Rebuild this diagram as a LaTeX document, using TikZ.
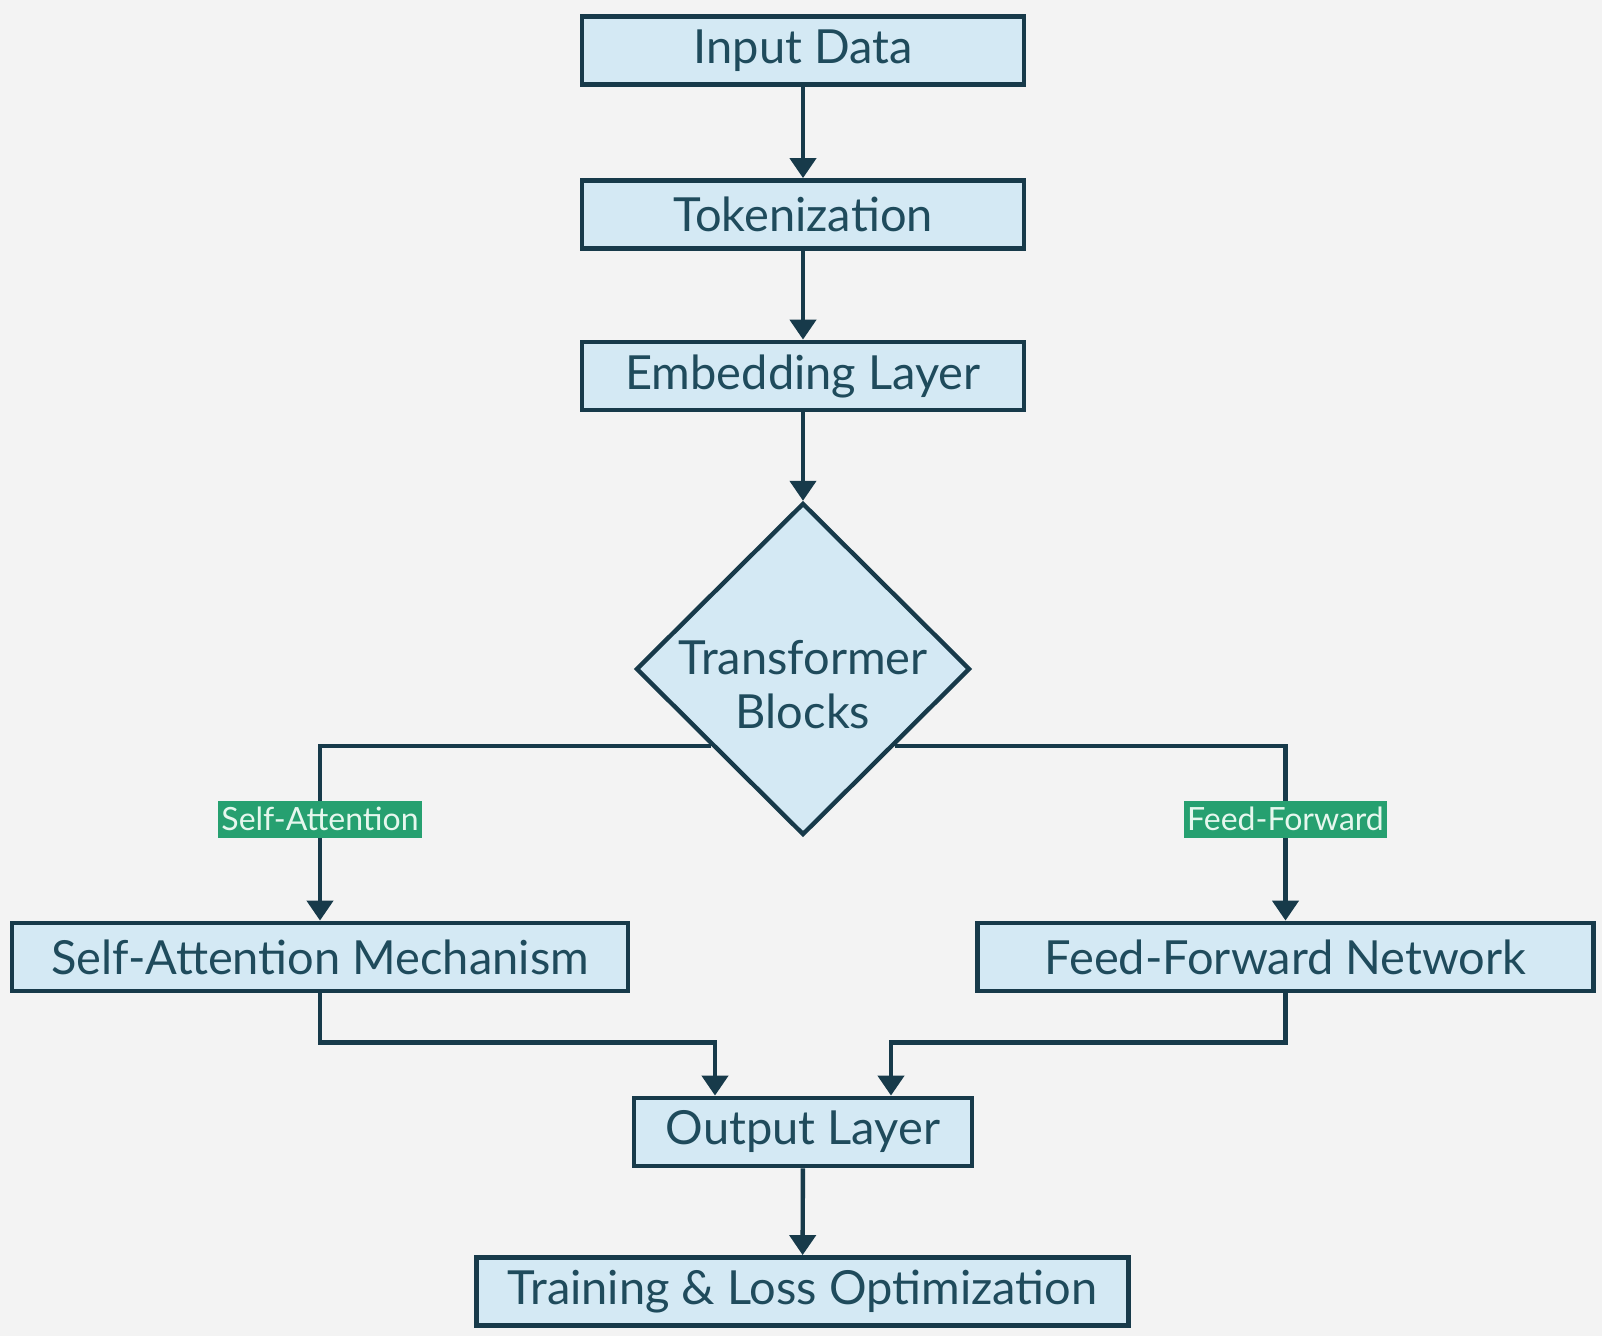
\documentclass[tikz,border=0pt]{standalone}
\usepackage{fontspec}
\setmainfont{Lato}
\usetikzlibrary{shapes.geometric,arrows.meta,calc}
\definecolor{bgc}{HTML}{F3F3F3}
\definecolor{edgec}{HTML}{173A4A}
\definecolor{boxc}{HTML}{D4E9F4}
\definecolor{txtc}{HTML}{1F4B5C}
\definecolor{labc}{HTML}{26A070}
\definecolor{labt}{HTML}{E6F7EE}
\begin{document}
\begin{tikzpicture}[x=0.5pt,y=-0.5pt,
  box/.style={draw=edgec,fill=boxc,line width=2.4pt,inner sep=0pt,text=txtc,
    font=\fontsize{23.5}{27}\selectfont,minimum height=34pt},
  dia/.style={diamond,draw=edgec,fill=boxc,line width=2.2pt,inner sep=0pt,aspect=1,
    minimum width=167pt,minimum height=166pt},
  conn/.style={draw=edgec,line width=2.2pt,-{Triangle[length=10pt,width=13pt]}},
  lab/.style={fill=labc,text=labt,font=\fontsize{16}{18}\selectfont,inner xsep=1.5pt,
    inner ysep=0pt,minimum height=18.5pt}]
\fill[bgc] (0,0) rectangle (1602,1336);
\useasboundingbox (0,0) rectangle (1602,1336);

\node[box,minimum width=221pt] (in) at (803,50.5) {Input Data};
\node[box,minimum width=221pt] (tok) at (803,214.5) {Tokenization};
\node[box,minimum width=221pt] (emb) at (803,376) {Embedding Layer};
\node[dia,label={[align=center,text=txtc,yshift=-8pt,font=\fontsize{23.5}{27}\selectfont]center:Transformer\\Blocks}] (tb) at (803,669) {};
\node[box,minimum width=308pt] (sam) at (320,957) {Self-Attention Mechanism};
\node[box,minimum width=308pt] (ffn) at (1285.5,957) {Feed-Forward Network};
\node[box,minimum width=169pt] (out) at (803,1132) {Output Layer};
\node[box,minimum width=326pt] (train) at (802.5,1291.5) {Training \& Loss Optimization};

\draw[conn] (in) -- (tok);
\draw[conn] (tok) -- (emb);
\draw[conn] (emb) -- (tb.north);
\draw[conn] (tb.220.8) -| node[lab,pos=0.71] {Self-Attention} (sam.north);
\draw[conn] (tb.-40.8) -| node[lab,pos=0.71] {Feed-Forward} (ffn.north);
\draw[conn] (sam.south) -- ++(0,49) -| ([xshift=-44pt]out.north);
\draw[conn] (ffn.south) -- ++(0,49) -| ([xshift=44pt]out.north);
\draw[conn] (out) -- (train);
\end{tikzpicture}
\end{document}
